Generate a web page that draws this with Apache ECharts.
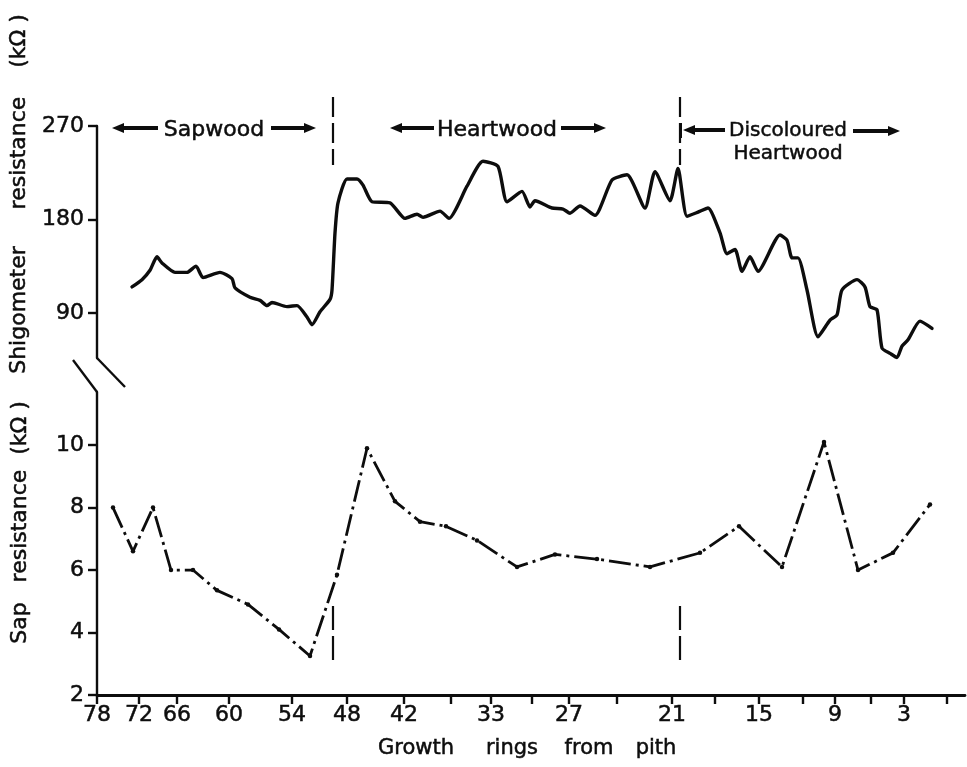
<!DOCTYPE html>
<html>
<head>
<meta charset="utf-8">
<script src="https://cdn.jsdelivr.net/npm/echarts@6/dist/echarts.min.js"></script>
<style>
  html, body { margin: 0; padding: 0; background: #fff; }
  #chart { width: 967px; height: 767px; }
</style>
</head>
<body>
<div id="chart"></div>
<script>
// ---- DATA ----
// x positions are distances along the increment core (axis units, 0 = ring 78 tick)
const xAxisMax = 868;
const xTickPositions = [0, 42, 80, 132, 195, 250, 307, 354, 394, 435, 472, 520, 575, 618, 662, 706, 738, 774, 807, 850];
const xTickLabels    = ['78','72','66','60','54','48','42','','33','','27','','21','','15','','9','','3',''];

// Shigometer resistance (kOhm) trace: [position, value]
const shigoX = [35, 45, 53, 60, 65, 78, 90, 99, 106, 123, 135, 138, 153, 163, 170, 175, 190, 200, 210, 215,
  223, 233, 235, 238, 241, 250, 260, 266, 275, 293, 308, 320, 326, 343, 352, 370, 386, 401, 410, 425,
  433, 438, 455, 466, 473, 483, 498, 515, 530, 548, 558, 573, 581, 590, 601, 611, 623, 630, 638, 645,
  653, 661, 683, 690, 695, 701, 710, 721, 733, 740, 745, 760, 768, 773, 780, 785, 793, 800, 805, 811,
  823, 835];
const shigoY = [115, 122, 131, 144, 138, 129, 129, 135, 124, 129, 123, 114, 105, 102, 97, 100, 96, 97, 86, 78.5,
  91, 103, 112, 167, 196, 219, 219, 213, 197, 196, 181, 185, 182, 188, 181, 212, 236, 231, 197, 207,
  192, 198, 191, 190, 186, 193, 184, 218, 223, 191, 226, 198, 229, 183, 187, 191, 167, 147, 151, 130,
  144, 130, 165, 160, 143, 143, 112, 67, 83, 88, 112, 122, 115, 96, 93, 56, 51, 47, 58, 64,
  82, 75];

// Sap resistance (kOhm): [position, value]
const sapX = [16, 36, 56, 74, 96, 120, 151, 182, 213, 240, 270, 298, 323, 349, 380, 420, 458, 500, 553, 603, 642, 685, 727, 761, 796, 833];
const sapY = [8.0, 6.6, 8.0, 6.0, 6.0, 5.35, 4.9, 4.1, 3.25, 5.85, 9.9, 8.2, 7.55, 7.4, 6.95, 6.1, 6.5, 6.35, 6.1, 6.55, 7.4, 6.1, 10.1, 6.0, 6.55, 8.1];

// wood-zone boundaries (positions on the core)
const zoneBoundaries = [236, 583];

const shigoTicks = [90, 180, 270];
const sapTicks = [2, 4, 6, 8, 10];

// ---- CHART ----
const FONT = 'DejaVu Sans';
const INK = '#0d0d0d';
const chart = echarts.init(document.getElementById('chart'), null, { renderer: 'canvas' });

const labeledPos = xTickPositions.filter((p, i) => xTickLabels[i] !== '');
const labelFor = v => { const i = xTickPositions.indexOf(v); return i >= 0 ? xTickLabels[i] : ''; };

const labelStyle = { color: INK, fontFamily: FONT, fontSize: 22, textBorderColor: INK, textBorderWidth: 0.5 };

const yAxisCommon = {
  type: 'value',
  axisLine: { show: true, lineStyle: { color: INK, width: 2.4 } },
  axisTick: { show: true, length: 9, lineStyle: { color: INK, width: 2.4 } },
  axisLabel: Object.assign({ margin: 13 }, labelStyle),
  splitLine: { show: false }
};

chart.setOption({
  backgroundColor: '#fff',
  animation: false,
  grid: [
    { left: 97, width: 868, top: 126, height: 232 },
    { left: 97, width: 868, top: 392, height: 303 }
  ],
  xAxis: [
    { gridIndex: 0, type: 'value', min: 0, max: xAxisMax, show: false },
    {
      gridIndex: 1, type: 'value', min: 0, max: xAxisMax,
      axisLine: { show: true, lineStyle: { color: INK, width: 2.8 } },
      axisTick: { show: true, customValues: xTickPositions, length: 9, lineStyle: { color: INK, width: 2.4 } },
      axisLabel: Object.assign({ customValues: labeledPos, formatter: labelFor, margin: 9 }, labelStyle),
      splitLine: { show: false }
    }
  ],
  yAxis: [
    Object.assign({}, yAxisCommon, {
      gridIndex: 0, min: 46.5, max: 270,
      axisTick: Object.assign({}, yAxisCommon.axisTick, { customValues: shigoTicks }),
      axisLabel: Object.assign({}, yAxisCommon.axisLabel, { customValues: shigoTicks })
    }),
    Object.assign({}, yAxisCommon, {
      gridIndex: 1, min: 2, max: 11.7,
      axisTick: Object.assign({}, yAxisCommon.axisTick, { customValues: sapTicks }),
      axisLabel: Object.assign({}, yAxisCommon.axisLabel, { customValues: sapTicks })
    })
  ],
  series: [
    {
      name: 'Shigometer resistance', type: 'line', xAxisIndex: 0, yAxisIndex: 0,
      data: shigoX.map((x, i) => [x, shigoY[i]]),
      showSymbol: false, symbol: 'none', smooth: 0.2, clip: false,
      lineStyle: { color: INK, width: 3.4, join: 'round', cap: 'round' }
    },
    {
      name: 'Sap resistance', type: 'line', xAxisIndex: 1, yAxisIndex: 1,
      data: sapX.map((x, i) => [x, sapY[i]]),
      symbol: 'circle', symbolSize: 4.5,
      itemStyle: { color: INK },
      lineStyle: { color: INK, width: 2.8, type: [22, 5, 3, 5] }
    }
  ]
});

// ---- ANNOTATIONS ----
function arrow(x1, x2, y) {
  const dir = x2 > x1 ? 1 : -1;
  const hx = x2 - dir * 12;
  return [
    { type: 'line', shape: { x1: x1, y1: y, x2: hx, y2: y }, style: { stroke: INK, lineWidth: 4 } },
    { type: 'polygon', shape: { points: [[x2, y], [hx, y - 5], [hx, y + 5]] }, style: { fill: INK } }
  ];
}
function txt(x, y, text, size) {
  return {
    type: 'text', x: x, y: y,
    style: { text: text, fill: INK, stroke: INK, lineWidth: 0.5, font: (size || 22) + 'px "' + FONT + '"', align: 'center', verticalAlign: 'middle' }
  };
}
function rtxt(x, y, text, size) {
  return {
    type: 'text', x: x, y: y, rotation: Math.PI / 2,
    style: { text: text, fill: INK, stroke: INK, lineWidth: 0.5, font: (size || 22) + 'px "' + FONT + '"', align: 'center', verticalAlign: 'middle' }
  };
}

const g = [];
// axis break marks
g.push({ type: 'line', shape: { x1: 97, y1: 358, x2: 125, y2: 387 }, style: { stroke: INK, lineWidth: 2.4 } });
g.push({ type: 'line', shape: { x1: 73, y1: 360, x2: 97, y2: 392 }, style: { stroke: INK, lineWidth: 2.4 } });

// zone boundaries (dashed)
zoneBoundaries.forEach(b => {
  const px = chart.convertToPixel({ xAxisIndex: 1 }, b);
  g.push({ type: 'line', shape: { x1: px, y1: 97, x2: px, y2: 165 }, style: { stroke: INK, lineWidth: 2.2, lineDash: [20, 6] } });
  g.push({ type: 'line', shape: { x1: px, y1: 606, x2: px, y2: 660 }, style: { stroke: INK, lineWidth: 2.2, lineDash: [24, 6] } });
});

// zone labels
g.push(...arrow(158, 112, 128));
g.push(txt(214, 130, 'Sapwood'));
g.push(...arrow(271, 316, 128));

g.push(...arrow(434, 390, 128));
g.push(txt(497, 130, 'Heartwood'));
g.push(...arrow(561, 606, 128));

g.push({ type: 'line', shape: { x1: 681, y1: 123, x2: 681, y2: 138 }, style: { stroke: INK, lineWidth: 2 } });
g.push(...arrow(725, 683, 130));
g.push(txt(788, 131, 'Discoloured', 20));
g.push(txt(788, 154, 'Heartwood', 20));
g.push(...arrow(853, 900, 131));

// axis titles
g.push(rtxt(19, 310, 'Shigometer'));
g.push(rtxt(19, 153, 'resistance'));
g.push(rtxt(19, 41, '(kΩ )'));

g.push(rtxt(20, 623, 'Sap'));
g.push(rtxt(20, 526, 'resistance'));
g.push(rtxt(20, 428, '(kΩ )'));

g.push(txt(416, 749, 'Growth', 21));
g.push(txt(512, 749, 'rings', 21));
g.push(txt(589, 749, 'from', 21));
g.push(txt(656, 749, 'pith', 21));

chart.setOption({ graphic: g });
</script>
</body>
</html>
